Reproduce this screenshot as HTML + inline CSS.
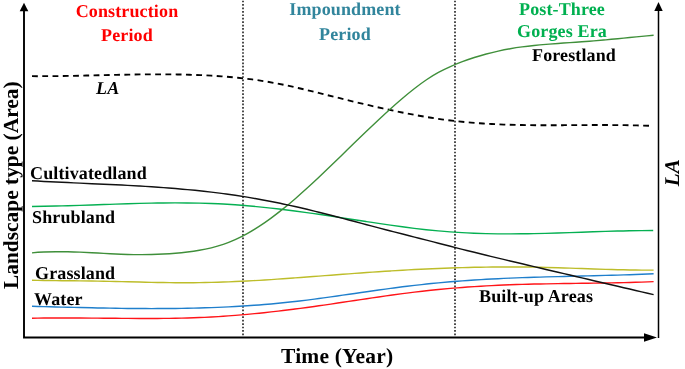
<!DOCTYPE html>
<html><head><meta charset="utf-8"><style>
html,body{margin:0;padding:0;background:#fff;}
body{width:685px;height:369px;overflow:hidden;}
svg{display:block;}
</style></head><body>
<svg style="text-rendering:geometricPrecision" width="685" height="369" viewBox="0 0 685 369">
<g fill="none" stroke-linecap="butt">
<line x1="243" y1="0.67" x2="243" y2="335.4" stroke="#000" stroke-width="1.4" stroke-dasharray="1.7,1.7315"/>
<line x1="455" y1="0.67" x2="455" y2="335.4" stroke="#000" stroke-width="1.4" stroke-dasharray="1.7,1.7315"/>
<path d="M32.00,76.19 C36.03,76.21 40.07,76.20 44.10,76.19 C48.13,76.17 52.16,76.14 56.20,76.09 C60.23,76.04 64.26,75.98 68.29,75.91 C72.33,75.84 76.36,75.76 80.39,75.68 C84.42,75.59 88.46,75.50 92.49,75.41 C96.52,75.31 100.56,75.22 104.59,75.13 C108.62,75.03 112.65,74.94 116.69,74.86 C120.72,74.77 124.75,74.69 128.78,74.62 C132.82,74.55 136.85,74.49 140.88,74.44 C144.92,74.40 148.95,74.36 152.98,74.34 C157.01,74.33 161.05,74.32 165.08,74.34 C169.11,74.36 173.14,74.40 177.18,74.47 C181.21,74.53 185.24,74.62 189.27,74.74 C193.31,74.85 197.34,75.00 201.37,75.17 C205.41,75.35 209.44,75.56 213.47,75.80 C217.50,76.04 221.54,76.32 225.57,76.65 C229.60,76.97 233.63,77.33 237.67,77.74 C241.70,78.16 245.73,78.62 249.76,79.13 C253.80,79.64 257.83,80.21 261.86,80.84 C265.90,81.46 269.93,82.15 273.96,82.90 C277.99,83.65 282.03,84.46 286.06,85.31 C290.09,86.17 294.12,87.07 298.16,88.00 C302.19,88.93 306.22,89.90 310.25,90.88 C314.29,91.86 318.32,92.86 322.35,93.87 C326.39,94.88 330.42,95.89 334.45,96.89 C338.48,97.89 342.52,98.89 346.55,99.88 C350.58,100.87 354.61,101.85 358.65,102.82 C362.68,103.79 366.71,104.74 370.75,105.67 C374.78,106.61 378.81,107.52 382.84,108.42 C386.88,109.31 390.91,110.18 394.94,111.02 C398.97,111.87 403.01,112.68 407.04,113.47 C411.07,114.25 415.10,115.01 419.14,115.72 C423.17,116.44 427.20,117.12 431.24,117.76 C435.27,118.40 439.30,119.00 443.33,119.55 C447.37,120.11 451.40,120.62 455.43,121.08 C459.46,121.54 463.50,121.95 467.53,122.32 C471.56,122.68 475.59,123.01 479.63,123.29 C483.66,123.58 487.69,123.82 491.73,124.03 C495.76,124.24 499.79,124.42 503.82,124.57 C507.86,124.71 511.89,124.83 515.92,124.92 C519.95,125.02 523.99,125.09 528.02,125.14 C532.05,125.19 536.08,125.22 540.12,125.24 C544.15,125.25 548.18,125.25 552.22,125.25 C556.25,125.24 560.28,125.22 564.31,125.20 C568.35,125.18 572.38,125.15 576.41,125.13 C580.44,125.10 584.48,125.08 588.51,125.06 C592.54,125.04 596.58,125.03 600.61,125.02 C604.64,125.02 608.67,125.02 612.71,125.05 C616.74,125.07 620.77,125.11 624.80,125.16 C628.84,125.22 632.87,125.30 636.90,125.40 C640.93,125.51 644.97,125.63 649.00,125.79" stroke="#000" stroke-width="1.85" pathLength="617.8" stroke-dasharray="5.8,4.4"/>
<path d="M32.00,318.22 C35.98,318.14 39.97,318.08 43.95,318.04 C47.94,317.99 51.92,317.96 55.91,317.95 C59.89,317.93 63.88,317.93 67.86,317.94 C71.85,317.95 75.83,317.96 79.82,317.99 C83.80,318.01 87.78,318.04 91.77,318.08 C95.75,318.11 99.74,318.15 103.72,318.19 C107.71,318.23 111.69,318.27 115.68,318.30 C119.66,318.34 123.65,318.37 127.63,318.40 C131.62,318.43 135.60,318.45 139.58,318.46 C143.57,318.47 147.55,318.48 151.54,318.47 C155.52,318.46 159.51,318.43 163.49,318.40 C167.48,318.36 171.46,318.31 175.45,318.23 C179.43,318.16 183.42,318.07 187.40,317.96 C191.38,317.84 195.37,317.71 199.35,317.55 C203.34,317.39 207.32,317.20 211.31,316.98 C215.29,316.77 219.28,316.53 223.26,316.26 C227.25,315.99 231.23,315.70 235.22,315.38 C239.20,315.06 243.18,314.72 247.17,314.35 C251.15,313.99 255.14,313.60 259.12,313.19 C263.11,312.78 267.09,312.36 271.08,311.91 C275.06,311.46 279.05,311.00 283.03,310.52 C287.02,310.04 291.00,309.54 294.98,309.03 C298.97,308.51 302.95,307.99 306.94,307.45 C310.92,306.91 314.91,306.36 318.89,305.79 C322.88,305.23 326.86,304.65 330.85,304.07 C334.83,303.49 338.82,302.90 342.80,302.30 C346.78,301.70 350.77,301.10 354.75,300.50 C358.74,299.90 362.72,299.31 366.71,298.71 C370.69,298.12 374.68,297.53 378.66,296.95 C382.65,296.37 386.63,295.80 390.62,295.25 C394.60,294.70 398.58,294.16 402.57,293.63 C406.55,293.11 410.54,292.61 414.52,292.14 C418.51,291.66 422.49,291.20 426.48,290.77 C430.46,290.33 434.45,289.92 438.43,289.53 C442.42,289.14 446.40,288.77 450.38,288.42 C454.37,288.07 458.35,287.75 462.34,287.44 C466.32,287.14 470.31,286.85 474.29,286.59 C478.28,286.33 482.26,286.09 486.25,285.86 C490.23,285.64 494.22,285.44 498.20,285.26 C502.18,285.08 506.17,284.92 510.15,284.78 C514.14,284.63 518.12,284.50 522.11,284.39 C526.09,284.27 530.08,284.17 534.06,284.07 C538.05,283.98 542.03,283.90 546.02,283.83 C550.00,283.75 553.98,283.68 557.97,283.62 C561.95,283.56 565.94,283.50 569.92,283.45 C573.91,283.39 577.89,283.34 581.88,283.29 C585.86,283.23 589.85,283.18 593.83,283.12 C597.82,283.06 601.80,283.00 605.78,282.94 C609.77,282.87 613.75,282.80 617.74,282.71 C621.72,282.63 625.71,282.54 629.69,282.44 C633.68,282.34 637.66,282.22 641.65,282.10 C645.63,281.97 649.62,281.83 653.60,281.67" stroke="#ff1418" stroke-width="1.4"/>
<path d="M32.00,306.31 C35.98,306.42 39.97,306.52 43.95,306.63 C47.94,306.74 51.92,306.84 55.91,306.95 C59.89,307.05 63.88,307.16 67.86,307.26 C71.85,307.36 75.83,307.46 79.82,307.55 C83.80,307.65 87.78,307.74 91.77,307.82 C95.75,307.91 99.74,307.99 103.72,308.07 C107.71,308.14 111.69,308.21 115.68,308.27 C119.66,308.33 123.65,308.38 127.63,308.43 C131.62,308.47 135.60,308.51 139.58,308.53 C143.57,308.56 147.55,308.57 151.54,308.58 C155.52,308.58 159.51,308.57 163.49,308.55 C167.48,308.53 171.46,308.50 175.45,308.45 C179.43,308.40 183.42,308.34 187.40,308.26 C191.38,308.19 195.37,308.09 199.35,307.99 C203.34,307.88 207.32,307.75 211.31,307.61 C215.29,307.46 219.28,307.30 223.26,307.12 C227.25,306.94 231.23,306.74 235.22,306.52 C239.20,306.30 243.18,306.06 247.17,305.80 C251.15,305.53 255.14,305.25 259.12,304.94 C263.11,304.63 267.09,304.30 271.08,303.95 C275.06,303.59 279.05,303.21 283.03,302.81 C287.02,302.40 291.00,301.97 294.98,301.52 C298.97,301.06 302.95,300.58 306.94,300.08 C310.92,299.58 314.91,299.06 318.89,298.52 C322.88,297.99 326.86,297.44 330.85,296.88 C334.83,296.32 338.82,295.75 342.80,295.18 C346.78,294.61 350.77,294.03 354.75,293.45 C358.74,292.87 362.72,292.29 366.71,291.72 C370.69,291.14 374.68,290.57 378.66,290.01 C382.65,289.45 386.63,288.91 390.62,288.37 C394.60,287.83 398.58,287.31 402.57,286.81 C406.55,286.31 410.54,285.83 414.52,285.37 C418.51,284.91 422.49,284.48 426.48,284.06 C430.46,283.65 434.45,283.25 438.43,282.88 C442.42,282.51 446.40,282.15 450.38,281.82 C454.37,281.48 458.35,281.17 462.34,280.87 C466.32,280.58 470.31,280.30 474.29,280.04 C478.28,279.78 482.26,279.53 486.25,279.31 C490.23,279.08 494.22,278.87 498.20,278.68 C502.18,278.48 506.17,278.30 510.15,278.13 C514.14,277.97 518.12,277.81 522.11,277.67 C526.09,277.52 530.08,277.39 534.06,277.26 C538.05,277.14 542.03,277.02 546.02,276.91 C550.00,276.80 553.98,276.69 557.97,276.59 C561.95,276.49 565.94,276.39 569.92,276.29 C573.91,276.20 577.89,276.10 581.88,276.01 C585.86,275.91 589.85,275.82 593.83,275.72 C597.82,275.62 601.80,275.52 605.78,275.41 C609.77,275.31 613.75,275.20 617.74,275.08 C621.72,274.96 625.71,274.84 629.69,274.70 C633.68,274.57 637.66,274.42 641.65,274.27 C645.63,274.11 649.62,273.95 653.60,273.77" stroke="#1f7fcc" stroke-width="1.4"/>
<path d="M32.00,280.25 C35.98,280.34 39.97,280.41 43.95,280.47 C47.94,280.53 51.92,280.59 55.91,280.63 C59.89,280.68 63.88,280.72 67.86,280.76 C71.85,280.79 75.83,280.83 79.82,280.88 C83.80,280.92 87.78,280.96 91.77,281.02 C95.75,281.07 99.74,281.14 103.72,281.22 C107.71,281.29 111.69,281.38 115.68,281.47 C119.66,281.56 123.65,281.66 127.63,281.76 C131.62,281.86 135.60,281.96 139.58,282.06 C143.57,282.15 147.55,282.25 151.54,282.33 C155.52,282.42 159.51,282.49 163.49,282.56 C167.48,282.62 171.46,282.67 175.45,282.70 C179.43,282.74 183.42,282.75 187.40,282.74 C191.38,282.73 195.37,282.70 199.35,282.65 C203.34,282.59 207.32,282.51 211.31,282.41 C215.29,282.31 219.28,282.19 223.26,282.05 C227.25,281.91 231.23,281.75 235.22,281.57 C239.20,281.40 243.18,281.20 247.17,280.99 C251.15,280.78 255.14,280.56 259.12,280.33 C263.11,280.09 267.09,279.84 271.08,279.58 C275.06,279.32 279.05,279.05 283.03,278.78 C287.02,278.50 291.00,278.22 294.98,277.92 C298.97,277.63 302.95,277.34 306.94,277.04 C310.92,276.74 314.91,276.43 318.89,276.12 C322.88,275.82 326.86,275.51 330.85,275.21 C334.83,274.90 338.82,274.59 342.80,274.29 C346.78,273.99 350.77,273.69 354.75,273.39 C358.74,273.10 362.72,272.81 366.71,272.52 C370.69,272.24 374.68,271.97 378.66,271.70 C382.65,271.43 386.63,271.18 390.62,270.93 C394.60,270.68 398.58,270.44 402.57,270.21 C406.55,269.98 410.54,269.76 414.52,269.55 C418.51,269.34 422.49,269.14 426.48,268.95 C430.46,268.77 434.45,268.59 438.43,268.43 C442.42,268.26 446.40,268.11 450.38,267.97 C454.37,267.83 458.35,267.71 462.34,267.59 C466.32,267.48 470.31,267.38 474.29,267.29 C478.28,267.21 482.26,267.14 486.25,267.08 C490.23,267.02 494.22,266.98 498.20,266.96 C502.18,266.93 506.17,266.92 510.15,266.93 C514.14,266.93 518.12,266.95 522.11,266.99 C526.09,267.03 530.08,267.09 534.06,267.16 C538.05,267.24 542.03,267.33 546.02,267.43 C550.00,267.53 553.98,267.64 557.97,267.77 C561.95,267.89 565.94,268.02 569.92,268.15 C573.91,268.28 577.89,268.42 581.88,268.56 C585.86,268.70 589.85,268.83 593.83,268.97 C597.82,269.10 601.80,269.23 605.78,269.35 C609.77,269.47 613.75,269.58 617.74,269.68 C621.72,269.78 625.71,269.87 629.69,269.94 C633.68,270.01 637.66,270.06 641.65,270.10 C645.63,270.13 649.62,270.15 653.60,270.13" stroke="#bdbd2a" stroke-width="1.4"/>
<path d="M32.00,206.44 C35.98,206.41 39.96,206.36 43.95,206.29 C47.93,206.22 51.91,206.14 55.89,206.04 C59.87,205.95 63.86,205.84 67.84,205.73 C71.82,205.61 75.80,205.49 79.78,205.35 C83.77,205.22 87.75,205.09 91.73,204.95 C95.71,204.81 99.69,204.67 103.68,204.53 C107.66,204.39 111.64,204.26 115.62,204.12 C119.61,203.99 123.59,203.86 127.57,203.74 C131.55,203.62 135.53,203.50 139.52,203.40 C143.50,203.30 147.48,203.21 151.46,203.13 C155.44,203.06 159.43,203.00 163.41,202.95 C167.39,202.91 171.37,202.88 175.35,202.88 C179.34,202.87 183.32,202.89 187.30,202.93 C191.28,202.97 195.26,203.04 199.25,203.13 C203.23,203.23 207.21,203.35 211.19,203.50 C215.17,203.65 219.16,203.84 223.14,204.06 C227.12,204.28 231.10,204.53 235.08,204.81 C239.07,205.09 243.05,205.41 247.03,205.75 C251.01,206.09 254.99,206.45 258.98,206.85 C262.96,207.24 266.94,207.66 270.92,208.10 C274.91,208.54 278.89,209.00 282.87,209.49 C286.85,209.97 290.83,210.47 294.82,210.99 C298.80,211.51 302.78,212.05 306.76,212.60 C310.74,213.15 314.73,213.71 318.71,214.29 C322.69,214.87 326.67,215.46 330.65,216.06 C334.64,216.65 338.62,217.26 342.60,217.87 C346.58,218.49 350.56,219.11 354.55,219.73 C358.53,220.34 362.51,220.96 366.49,221.58 C370.47,222.19 374.46,222.80 378.44,223.40 C382.42,224.00 386.40,224.58 390.38,225.15 C394.37,225.72 398.35,226.28 402.33,226.81 C406.31,227.34 410.29,227.85 414.28,228.33 C418.26,228.81 422.24,229.26 426.22,229.68 C430.21,230.10 434.19,230.49 438.17,230.85 C442.15,231.21 446.13,231.54 450.12,231.83 C454.10,232.13 458.08,232.39 462.06,232.62 C466.04,232.85 470.03,233.05 474.01,233.21 C477.99,233.38 481.97,233.51 485.95,233.61 C489.94,233.71 493.92,233.78 497.90,233.83 C501.88,233.87 505.86,233.89 509.85,233.88 C513.83,233.88 517.81,233.85 521.79,233.81 C525.77,233.76 529.76,233.70 533.74,233.62 C537.72,233.54 541.70,233.45 545.68,233.34 C549.67,233.24 553.65,233.12 557.63,233.00 C561.61,232.87 565.59,232.74 569.58,232.61 C573.56,232.48 577.54,232.34 581.52,232.20 C585.51,232.06 589.49,231.93 593.47,231.79 C597.45,231.66 601.43,231.53 605.42,231.41 C609.40,231.29 613.38,231.17 617.36,231.07 C621.34,230.97 625.33,230.88 629.31,230.80 C633.29,230.73 637.27,230.67 641.25,230.63 C645.24,230.59 649.22,230.57 653.20,230.57" stroke="#05b052" stroke-width="1.4"/>
<path d="M32.00,252.91 C35.98,252.52 39.97,252.24 43.95,252.05 C47.94,251.85 51.92,251.75 55.91,251.71 C59.89,251.67 63.88,251.71 67.86,251.79 C71.85,251.87 75.83,252.00 79.82,252.17 C83.80,252.33 87.78,252.53 91.77,252.73 C95.75,252.94 99.74,253.16 103.72,253.38 C107.71,253.59 111.69,253.80 115.68,253.98 C119.66,254.16 123.65,254.31 127.63,254.43 C131.62,254.54 135.60,254.61 139.58,254.62 C143.57,254.64 147.55,254.60 151.54,254.51 C155.52,254.42 159.51,254.27 163.49,254.06 C167.48,253.85 171.46,253.58 175.45,253.24 C179.43,252.90 183.42,252.49 187.40,252.01 C191.38,251.53 195.37,250.97 199.35,250.29 C203.34,249.62 207.32,248.82 211.31,247.86 C215.29,246.89 219.28,245.76 223.26,244.41 C227.25,243.06 231.23,241.48 235.22,239.68 C239.20,237.87 243.18,235.85 247.17,233.62 C251.15,231.40 255.14,228.97 259.12,226.37 C263.11,223.78 267.09,221.00 271.08,218.08 C275.06,215.16 279.05,212.08 283.03,208.88 C287.02,205.68 291.00,202.35 294.98,198.92 C298.97,195.49 302.95,191.95 306.94,188.34 C310.92,184.72 314.91,181.02 318.89,177.27 C322.88,173.52 326.86,169.71 330.85,165.86 C334.83,162.02 338.82,158.14 342.80,154.26 C346.78,150.37 350.77,146.48 354.75,142.60 C358.74,138.72 362.72,134.85 366.71,131.02 C370.69,127.19 374.68,123.40 378.66,119.67 C382.65,115.94 386.63,112.27 390.62,108.69 C394.60,105.10 398.58,101.60 402.57,98.21 C406.55,94.82 410.54,91.55 414.52,88.45 C418.51,85.35 422.49,82.42 426.48,79.73 C430.46,77.04 434.45,74.58 438.43,72.40 C442.42,70.23 446.40,68.31 450.38,66.55 C454.37,64.79 458.35,63.18 462.34,61.68 C466.32,60.17 470.31,58.79 474.29,57.51 C478.28,56.24 482.26,55.07 486.25,54.01 C490.23,52.94 494.22,51.98 498.20,51.11 C502.18,50.24 506.17,49.46 510.15,48.77 C514.14,48.08 518.12,47.47 522.11,46.93 C526.09,46.39 530.08,45.92 534.06,45.50 C538.05,45.08 542.03,44.71 546.02,44.37 C550.00,44.03 553.98,43.73 557.97,43.45 C561.95,43.16 565.94,42.90 569.92,42.63 C573.91,42.36 577.89,42.09 581.88,41.81 C585.86,41.53 589.85,41.23 593.83,40.89 C597.82,40.56 601.80,40.21 605.78,39.84 C609.77,39.46 613.75,39.08 617.74,38.68 C621.72,38.29 625.71,37.89 629.69,37.50 C633.68,37.10 637.66,36.71 641.65,36.33 C645.63,35.96 649.62,35.59 653.60,35.25" stroke="#3f8f3a" stroke-width="1.4"/>
<path d="M32.00,180.78 C35.98,181.00 39.97,181.22 43.95,181.42 C47.94,181.63 51.92,181.83 55.91,182.02 C59.89,182.21 63.88,182.40 67.86,182.58 C71.85,182.76 75.83,182.94 79.82,183.12 C83.80,183.30 87.78,183.48 91.77,183.66 C95.75,183.83 99.74,184.02 103.72,184.20 C107.71,184.39 111.69,184.58 115.68,184.77 C119.66,184.97 123.65,185.17 127.63,185.38 C131.62,185.60 135.60,185.82 139.58,186.05 C143.57,186.29 147.55,186.53 151.54,186.79 C155.52,187.05 159.51,187.33 163.49,187.62 C167.48,187.91 171.46,188.22 175.45,188.55 C179.43,188.88 183.42,189.23 187.40,189.60 C191.38,189.97 195.37,190.36 199.35,190.78 C203.34,191.20 207.32,191.64 211.31,192.11 C215.29,192.58 219.28,193.08 223.26,193.61 C227.25,194.13 231.23,194.69 235.22,195.28 C239.20,195.87 243.18,196.49 247.17,197.15 C251.15,197.81 255.14,198.50 259.12,199.22 C263.11,199.94 267.09,200.69 271.08,201.48 C275.06,202.26 279.05,203.08 283.03,203.92 C287.02,204.77 291.00,205.64 294.98,206.54 C298.97,207.45 302.95,208.37 306.94,209.33 C310.92,210.28 314.91,211.26 318.89,212.25 C322.88,213.25 326.86,214.26 330.85,215.29 C334.83,216.32 338.82,217.36 342.80,218.40 C346.78,219.45 350.77,220.51 354.75,221.56 C358.74,222.62 362.72,223.68 366.71,224.73 C370.69,225.79 374.68,226.84 378.66,227.88 C382.65,228.92 386.63,229.96 390.62,230.98 C394.60,232.01 398.58,233.03 402.57,234.05 C406.55,235.06 410.54,236.08 414.52,237.10 C418.51,238.11 422.49,239.13 426.48,240.16 C430.46,241.18 434.45,242.20 438.43,243.23 C442.42,244.26 446.40,245.29 450.38,246.31 C454.37,247.34 458.35,248.35 462.34,249.35 C466.32,250.35 470.31,251.34 474.29,252.32 C478.28,253.30 482.26,254.28 486.25,255.24 C490.23,256.21 494.22,257.17 498.20,258.12 C502.18,259.07 506.17,260.02 510.15,260.96 C514.14,261.91 518.12,262.85 522.11,263.79 C526.09,264.73 530.08,265.67 534.06,266.61 C538.05,267.55 542.03,268.49 546.02,269.43 C550.00,270.37 553.98,271.31 557.97,272.24 C561.95,273.18 565.94,274.12 569.92,275.06 C573.91,276.00 577.89,276.93 581.88,277.87 C585.86,278.81 589.85,279.74 593.83,280.68 C597.82,281.61 601.80,282.55 605.78,283.48 C609.77,284.41 613.75,285.34 617.74,286.28 C621.72,287.21 625.71,288.13 629.69,289.06 C633.68,289.99 637.66,290.91 641.65,291.84 C645.63,292.76 649.62,293.69 653.60,294.61" stroke="#111" stroke-width="1.45"/>
<path d="M24,10 V337.5 H646" stroke="#000" stroke-width="1.9"/>
<path d="M658.5,10 V338" stroke="#000" stroke-width="1.5"/>
</g>
<g fill="#000" stroke="none">
<path d="M24,2.8 L28.3,11.2 L19.7,11.2 Z"/>
<path d="M658.5,2 L662.7,11 L654.3,11 Z"/>
<path d="M657,337.4 L644,333.2 L644,341.8 Z"/>
</g>
<g font-family="Liberation Serif, serif" font-weight="bold" font-size="18px" letter-spacing="0.13">
<text x="127" y="16.8" fill="#ff0000" text-anchor="middle">Construction</text>
<text x="127" y="40.9" fill="#ff0000" text-anchor="middle">Period</text>
<text x="345" y="14.9" fill="#31859c" text-anchor="middle">Impoundment</text>
<text x="345" y="39.9" fill="#31859c" text-anchor="middle">Period</text>
<text x="562" y="14.7" fill="#00b050" text-anchor="middle">Post-Three</text>
<text x="562" y="36.6" fill="#00b050" text-anchor="middle">Gorges Era</text>
<text x="532" y="60.7" fill="#000">Forestland</text>
<text x="96" y="93.8" fill="#000" font-style="italic">LA</text>
<text x="30" y="179.3" fill="#000">Cultivatedland</text>
<text x="32" y="223.2" fill="#000">Shrubland</text>
<text x="35" y="279.0" fill="#000">Grassland</text>
<text x="34" y="304.5" fill="#000">Water</text>
<text x="479" y="301.7" fill="#000">Built-up Areas</text>
<text x="281" y="362.6" fill="#000" font-size="21.5px" letter-spacing="0.2">Time (Year)</text>
<text transform="translate(17.9,289.0) rotate(-90)" x="0" y="0" fill="#000" font-size="21.4px" letter-spacing="0">Landscape type (Area)</text>
<text transform="translate(678.8,159.2) rotate(-90)" x="0" y="0" fill="#000" font-size="21px" font-style="italic" text-anchor="end">LA</text>
</g>
</svg>
</body></html>
